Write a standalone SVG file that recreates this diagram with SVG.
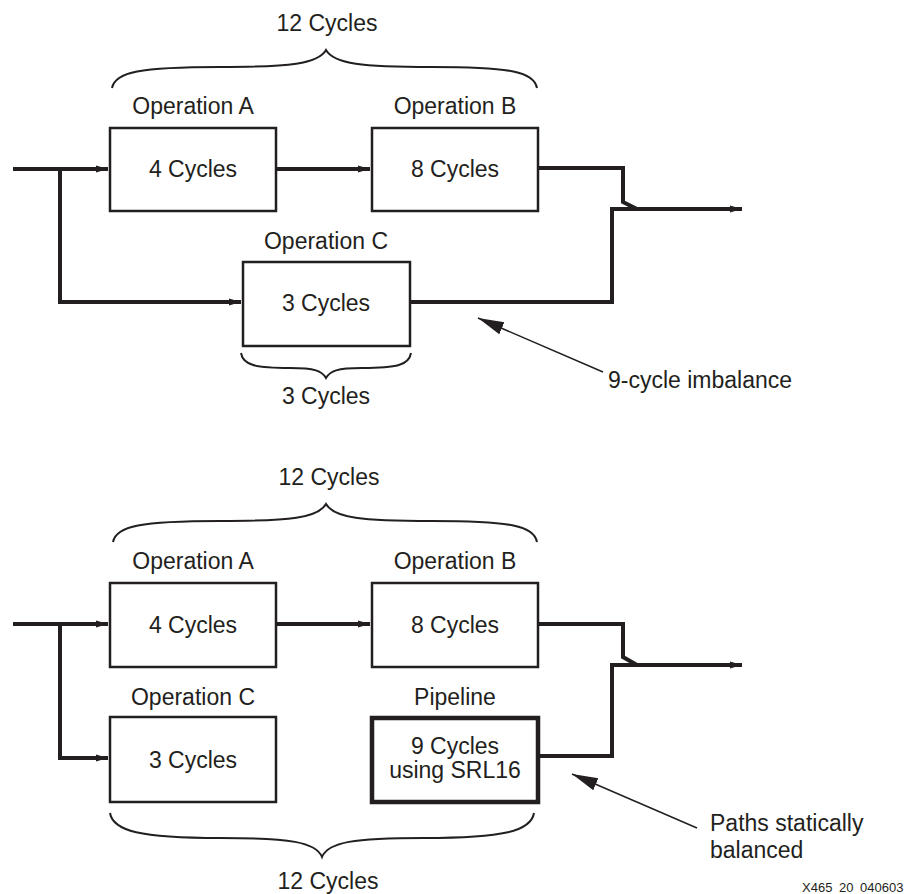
<svg xmlns="http://www.w3.org/2000/svg" width="908" height="894" viewBox="0 0 908 894">
<style>
text{font-family:"Liberation Sans",Arial,sans-serif;font-size:23px;fill:#231f20;text-anchor:middle}
.l{text-anchor:start}
.box{fill:#fff;stroke:#231f20;stroke-width:2.5}
.thick{stroke-width:4.5}
.w{fill:none;stroke:#231f20;stroke-width:4;stroke-linejoin:miter}
.br{fill:none;stroke:#231f20;stroke-width:2}
.co{fill:none;stroke:#231f20;stroke-width:1.5}
.small{font-size:13px}
</style>
<defs>
<marker id="ah" markerUnits="userSpaceOnUse" markerWidth="14" markerHeight="10" refX="12" refY="5" orient="auto">
<path d="M0,1.5 L12,5 L0,8.5 Z" fill="#231f20"/>
</marker>
<marker id="big" markerUnits="userSpaceOnUse" markerWidth="28" markerHeight="16" refX="26" refY="8" orient="auto">
<path d="M0,1.5 L26,8 L0,14.5 Z" fill="#231f20"/>
</marker>
</defs>
<g id="connectors">
<path class="w" d="M13,169 H108" marker-end="url(#ah)"/>
<path class="w" d="M60,169 V302 H241" marker-end="url(#ah)"/>
<path class="w" d="M276,169 H370" marker-end="url(#ah)"/>
<path class="w" d="M538,168 H623 V202 L637,209"/>
<path class="w" d="M410,302 H612 V209 H742" marker-end="url(#ah)"/>
<path class="co" d="M603,372 L478,318" marker-end="url(#big)"/>
<path class="w" d="M13,624 H108" marker-end="url(#ah)"/>
<path class="w" d="M60,624 V758 H108" marker-end="url(#ah)"/>
<path class="w" d="M276,624 H370" marker-end="url(#ah)"/>
<path class="w" d="M538,624 H623 V657 L637,665"/>
<path class="w" d="M538,756 H612 V665 H742" marker-end="url(#ah)"/>
<path class="co" d="M697,828 L572,774" marker-end="url(#big)"/>
</g>
<g id="brace-top">
<path class="br" d="M112,88 C115,72 140,67 220,67 C290,67 318,64 326,50 C334,64 362,67 432,67 C512,67 534,72 537,88"/>
<text x="327" y="31">12 Cycles</text>
</g>
<g id="opA-top"><text x="193" y="114">Operation A</text><rect class="box" x="110" y="128" width="166" height="83"/><text x="193" y="177">4 Cycles</text></g>
<g id="opB-top"><text x="455" y="114">Operation B</text><rect class="box" x="372" y="128" width="166" height="83"/><text x="455" y="177">8 Cycles</text></g>
<g id="opC-top"><text x="326" y="249">Operation C</text><rect class="box" x="243" y="262" width="167" height="84"/><text x="326" y="311">3 Cycles</text></g>
<g id="brace-c">
<path class="br" d="M241,353 C243,365 255,368 290,368 C315,368 322,371 326,378 C330,371 337,368 362,368 C397,368 409,365 411,353"/>
<text x="326" y="404">3 Cycles</text>
</g>
<g id="note-top"><text class="l" x="608" y="388">9-cycle imbalance</text></g>
<g id="brace-bottom-top">
<path class="br" d="M113,542 C116,526 141,521 220,521 C290,521 318,518 326,504 C334,518 362,521 432,521 C512,521 534,526 537,542"/>
<text x="329" y="485">12 Cycles</text>
</g>
<g id="opA-bot"><text x="193" y="569">Operation A</text><rect class="box" x="110" y="583" width="166" height="84"/><text x="193" y="633">4 Cycles</text></g>
<g id="opB-bot"><text x="455" y="569">Operation B</text><rect class="box" x="372" y="583" width="166" height="84"/><text x="455" y="633">8 Cycles</text></g>
<g id="opC-bot"><text x="193" y="705">Operation C</text><rect class="box" x="110" y="717" width="166" height="85"/><text x="193" y="768">3 Cycles</text></g>
<g id="pipeline"><text x="455" y="705">Pipeline</text><rect class="box thick" x="372" y="718" width="166" height="84"/><text x="455" y="754">9 Cycles</text><text x="455" y="778">using SRL16</text></g>
<g id="brace-bot">
<path class="br" d="M110,813 C113,831 140,838 220,838 C290,838 316,842 322,857 C328,842 354,838 424,838 C504,838 531,831 534,813"/>
<text x="328" y="889">12 Cycles</text>
</g>
<g id="note-bot"><text class="l" x="710" y="831">Paths statically</text><text class="l" x="710" y="858">balanced</text></g>
<text class="l small" x="802" y="892" style="word-spacing:3px">X465 20 040603</text>
</svg>
